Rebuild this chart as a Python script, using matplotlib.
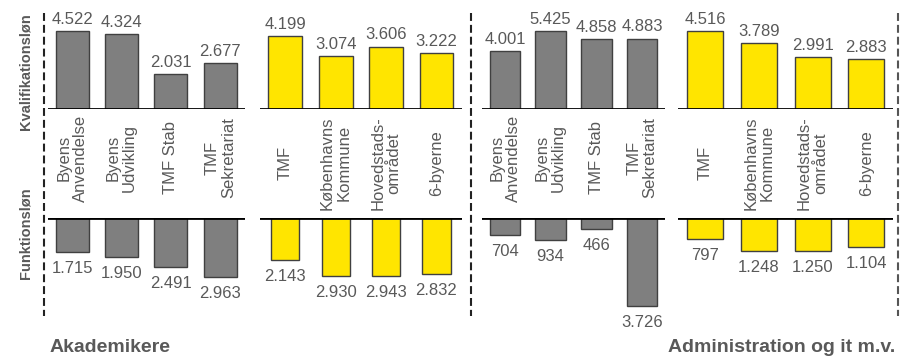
#!/usr/bin/env python3
"""
Løn sammenligning - Kvalifikationsløn og Funktionsløn
"""
import matplotlib
matplotlib.use("Agg")
import matplotlib.pyplot as plt
from matplotlib.lines import Line2D
from matplotlib.transforms import blended_transform_factory

# Data (kr.)
unit_labels = ["Byens\nAnvendelse", "Byens\nUdvikling", "TMF Stab", "TMF\nSekretariat"]
cmp_labels = ["TMF", "Københavns\nKommune", "Hovedstads-\nområdet", "6-byerne"]

akad_unit_kval = [4522, 4324, 2031, 2677]
akad_unit_funk = [1715, 1950, 2491, 2963]
akad_cmp_kval = [4199, 3074, 3606, 3222]
akad_cmp_funk = [2143, 2930, 2943, 2832]

adm_unit_kval = [4001, 5425, 4858, 4883]
adm_unit_funk = [704, 934, 466, 3726]
adm_cmp_kval = [4516, 3789, 2991, 2883]
adm_cmp_funk = [797, 1248, 1250, 1104]

W, H = 906, 357
GREY = '#7f7f7f'
YELLOW = '#ffe500'
EDGE = '#404040'
TXT = '#595959'

plt.rcParams['font.family'] = ['Liberation Sans', 'DejaVu Sans']

fig = plt.figure(figsize=(W / 100, H / 100), dpi=100)


def px_axes(x0, y0, x1, y1):
    """Axes from pixel box (top-left origin)"""
    return fig.add_axes([x0 / W, 1 - y1 / H, (x1 - x0) / W, (y1 - y0) / H])


def fmt(v):
    return f"{v:,}".replace(",", ".")


def draw_panel(ax, values, color, top, lim, width):
    xs = range(len(values))
    if top:
        ax.bar(xs, values, width=width, color=color, edgecolor=EDGE, linewidth=1)
        ax.set_ylim(0, lim)
        for x, v in zip(xs, values):
            ax.annotate(fmt(v), (x, v), xytext=(0, 3), textcoords='offset points',
                        ha='center', va='bottom', fontsize=12, color=TXT)
    else:
        ax.bar(xs, [-v for v in values], width=width, color=color, edgecolor=EDGE, linewidth=1)
        ax.set_ylim(-lim, 0)
        for x, v in zip(xs, values):
            ax.annotate(fmt(v), (x, -v), xytext=(0, -6.5), textcoords='offset points',
                        ha='center', va='top', fontsize=12, color=TXT)
    ax.axhline(0, color='black', linewidth=2, zorder=5)
    ax.set_xlim(-0.5, 3.5)
    ax.axis('off')


def draw_labels(ax, labels, y_px):
    trans = blended_transform_factory(ax.transData, fig.transFigure)
    for i, lab in enumerate(labels):
        ax.text(i, 1 - y_px / H, lab, transform=trans, rotation=90, ha='center', va='center',
                multialignment='center', fontsize=12, color=TXT, linespacing=1.1)


TOP = (20, 109)
BOT = (218, 316)

groups = [
    # x0, x1, kval, funk, color, labels, top lim, bottom lim, top width, bottom width, label y
    (47.5, 245, akad_unit_kval, akad_unit_funk, GREY, unit_labels, 5145, 4950, 0.67, 0.67, 158),
    (260, 461.7, akad_cmp_kval, akad_cmp_funk, YELLOW, cmp_labels, 5145, 4950, 0.67, 0.56, 163),
    (482, 665, adm_unit_kval, adm_unit_funk, GREY, unit_labels, 6170, 4160, 0.67, 0.67, 158),
    (678.3, 893.3, adm_cmp_kval, adm_cmp_funk, YELLOW, cmp_labels, 5145, 3725, 0.67, 0.67, 163),
]

for x0, x1, kval, funk, color, labels, tlim, blim, tw, bw, ly in groups:
    ax_top = px_axes(x0, TOP[0], x1, TOP[1])
    draw_panel(ax_top, kval, color, True, tlim, tw)
    draw_labels(ax_top, labels, ly)
    ax_bot = px_axes(x0, BOT[0], x1, BOT[1])
    draw_panel(ax_bot, funk, color, False, blim, bw)

# Dashed separators
for x, c in ((44.3, '#222222'), (471, '#222222'), (897.7, '#555555')):
    fig.add_artist(Line2D([x / W, x / W], [1 - 13 / H, 1 - 316 / H], transform=fig.transFigure,
                          color=c, linewidth=1.5, linestyle=(0, (3.8, 1.9))))

# Row labels
fig.text(26 / W, 1 - 72 / H, "Kvalifikationsløn", rotation=90, ha='center', va='center',
         fontsize=10.5, fontweight='bold', color=TXT)
fig.text(26 / W, 1 - 233 / H, "Funktionsløn", rotation=90, ha='center', va='center',
         fontsize=10.5, fontweight='bold', color=TXT)

# Group titles
fig.text(50 / W, 1 - 348 / H, "Akademikere", ha='left', va='center',
         fontsize=14, fontweight='bold', color=TXT)
fig.text(895 / W, 1 - 348 / H, "Administration og it m.v.", ha='right', va='center',
         fontsize=14, fontweight='bold', color=TXT)

plt.savefig('out.png', dpi=100, facecolor='white')
plt.close()
